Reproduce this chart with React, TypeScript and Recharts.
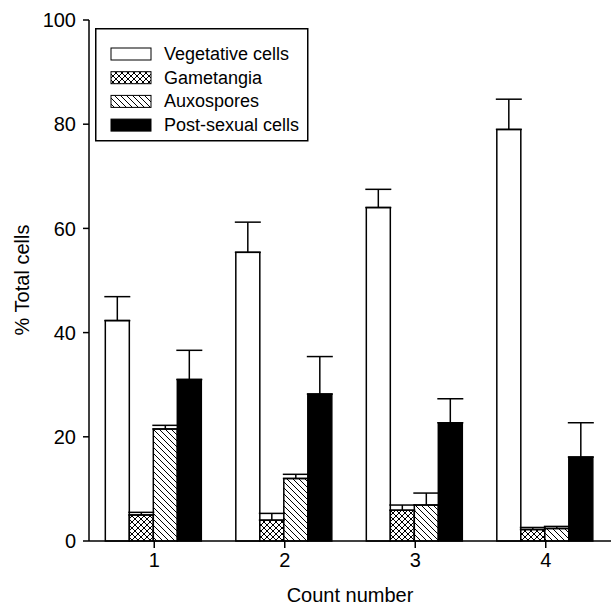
import { BarChart, Bar, XAxis, YAxis, ErrorBar, Legend } from "recharts";

// count numbers on the x axis
const counts = ["1", "2", "3", "4"];

// mean % of total cells
const vegetative = [42.3, 55.4, 64.0, 79.0];
const gametangia = [5.0, 4.0, 5.9, 2.2];
const auxospores = [21.5, 12.0, 6.9, 2.4];
const postSexual = [31.0, 28.2, 22.7, 16.1];

// upper error (SE) for each bar
const vegetativeErr = [4.6, 5.8, 3.5, 5.8];
const gametangiaErr = [0.5, 1.3, 1.0, 0.4];
const auxosporesErr = [0.7, 0.8, 2.3, 0.4];
const postSexualErr = [5.6, 7.2, 4.6, 6.6];

const yTicks = [0, 20, 40, 60, 80, 100];

const seriesNames = ["Vegetative cells", "Gametangia", "Auxospores", "Post-sexual cells"];
const seriesFills = ["#fff", "url(#crossHatch)", "url(#diagHatch)", "#000"];

const data = counts.map((c, i) => ({
  count: c,
  veg: vegetative[i],
  vegErr: [0, vegetativeErr[i]],
  gam: gametangia[i],
  gamErr: [0, gametangiaErr[i]],
  aux: auxospores[i],
  auxErr: [0, auxosporesErr[i]],
  post: postSexual[i],
  postErr: [0, postSexualErr[i]],
}));

const font = "'Liberation Sans', Arial, sans-serif";

function Patterns() {
  return (
    <svg width={0} height={0} style={{ position: "absolute" }}>
      <defs>
        <pattern id="crossHatch" patternUnits="userSpaceOnUse" width={6} height={6}>
          <rect width={6} height={6} fill="#fff" />
          <path d="M0,0 L6,6 M6,0 L0,6" stroke="#000" strokeWidth={1} />
        </pattern>
        <pattern id="diagHatch" patternUnits="userSpaceOnUse" width={6} height={6}>
          <rect width={6} height={6} fill="#fff" />
          <path d="M-1,-1 L7,7 M-4,2 L2,8 M4,-2 L8,2" stroke="#000" strokeWidth={1} />
        </pattern>
      </defs>
    </svg>
  );
}

function LegendBox() {
  return (
    <svg width={214} height={114} style={{ display: "block" }}>
      <rect x={0.75} y={0.75} width={212} height={112} fill="#fff" stroke="#000" strokeWidth={1.5} />
      {seriesNames.map((name, i) => {
        const cy = 26 + i * 23.7;
        return (
          <g key={name}>
            <rect x={16} y={cy - 6} width={40} height={12} fill={seriesFills[i]} stroke="#000" strokeWidth={1} />
            <text x={69} y={cy} dominantBaseline="central" fontSize={18} fontFamily={font} fill="#000">
              {name}
            </text>
          </g>
        );
      })}
    </svg>
  );
}

export default function App() {
  return (
    <div style={{ position: "absolute", left: 0, top: 0, background: "#fff" }}>
      <Patterns />
      <BarChart
        width={612}
        height={606}
        data={data}
        margin={{ top: 20, right: 1, bottom: 35, left: 0 }}
        barCategoryGap="12.5%"
        barGap={0}
      >
        <XAxis
          dataKey="count"
          tickSize={7}
          tickMargin={5}
          stroke="#000"
          strokeWidth={1.5}
          tick={{ fill: "#000", fontSize: 20, fontFamily: font }}
          label={{
            content: () => (
              <text x={350} y={595} textAnchor="middle" dominantBaseline="central" fontSize={20} fontFamily={font} fill="#000">
                Count number
              </text>
            ),
          }}
        />
        <XAxis xAxisId="top" dataKey="count" orientation="top" height={0} tick={false} tickLine={false} stroke="#000" strokeWidth={1.5} />
        <YAxis
          width={89}
          domain={[0, 100]}
          ticks={yTicks}
          tickSize={6}
          tickMargin={7}
          stroke="#000"
          strokeWidth={1.5}
          tick={{ fill: "#000", fontSize: 20, fontFamily: font }}
          label={{
            content: () => (
              <text
                x={22}
                y={280}
                transform="rotate(-90 22 280)"
                textAnchor="middle"
                dominantBaseline="central"
                fontSize={20}
                fontFamily={font}
                fill="#000"
              >
                % Total cells
              </text>
            ),
          }}
        />
        <YAxis yAxisId="right" orientation="right" width={0} domain={[0, 100]} tick={false} tickLine={false} stroke="#000" strokeWidth={1.5} />
        <Legend
          layout="vertical"
          align="center"
          verticalAlign="middle"
          content={() => <LegendBox />}
          wrapperStyle={{ position: "absolute", left: 95, top: 28, width: 214, height: 114 }}
        />
        <Bar dataKey="veg" fill="#fff" stroke="#000" strokeWidth={1.5} isAnimationActive={false}>
          <ErrorBar dataKey="vegErr" direction="y" width={13} stroke="#000" strokeWidth={1.5} isAnimationActive={false} />
        </Bar>
        <Bar dataKey="gam" fill="url(#crossHatch)" stroke="#000" strokeWidth={1.5} isAnimationActive={false}>
          <ErrorBar dataKey="gamErr" direction="y" width={13} stroke="#000" strokeWidth={1.5} isAnimationActive={false} />
        </Bar>
        <Bar dataKey="aux" fill="url(#diagHatch)" stroke="#000" strokeWidth={1.5} isAnimationActive={false}>
          <ErrorBar dataKey="auxErr" direction="y" width={13} stroke="#000" strokeWidth={1.5} isAnimationActive={false} />
        </Bar>
        <Bar dataKey="post" fill="#000" stroke="#000" strokeWidth={1.5} isAnimationActive={false}>
          <ErrorBar dataKey="postErr" direction="y" width={13} stroke="#000" strokeWidth={1.5} isAnimationActive={false} />
        </Bar>
      </BarChart>
    </div>
  );
}
